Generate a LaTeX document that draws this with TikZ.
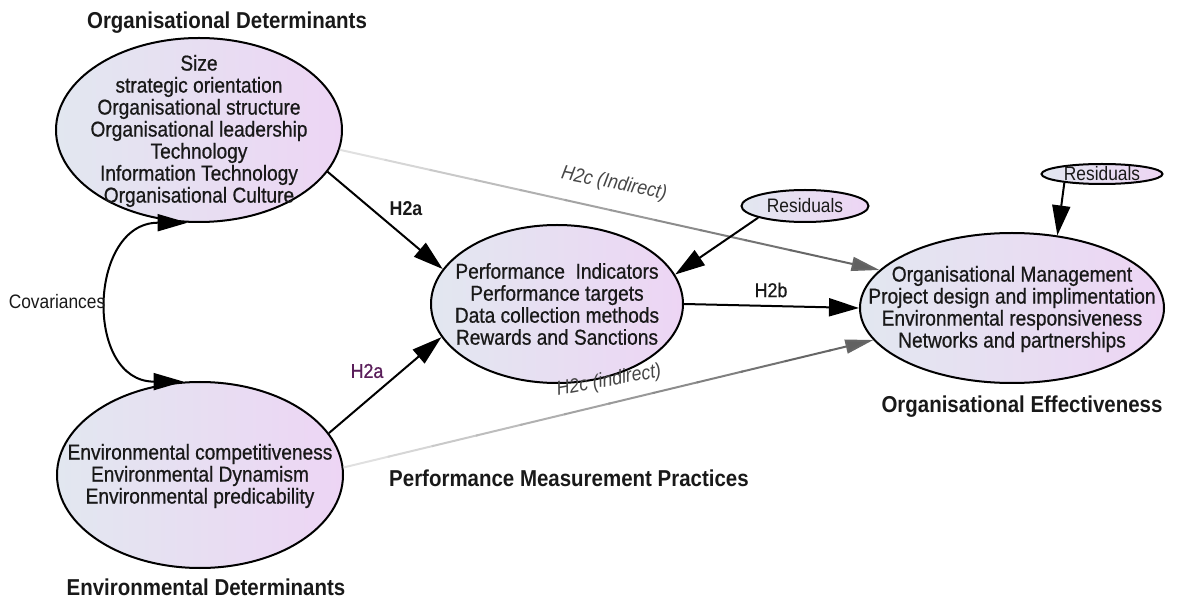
\documentclass[tikz,border=0pt]{standalone}
\usepackage{fontspec}
\setmainfont{Liberation Sans}[FakeStretch=0.89]
\newfontfamily\medfont{Liberation Sans}[FakeStretch=0.89, FakeBold=0.7]
\usetikzlibrary{shapes.geometric,arrows.meta,calc}
\definecolor{ellL}{RGB}{226,231,240}
\definecolor{ellR}{RGB}{237,213,244}
\definecolor{hpurple}{RGB}{90,30,90}
\definecolor{ink}{RGB}{25,25,25}
\definecolor{note}{RGB}{70,70,70}

\begin{document}
\begin{tikzpicture}[x=1pt,y=-1pt,
  construct/.style={ellipse, draw=black, line width=2pt, left color=ellL, right color=ellR, inner sep=0pt},
  itemtext/.style={align=center, font=\medfont\fontsize{21.5}{22}\selectfont, text=ink, inner sep=0pt},
  heading/.style={font=\fontsize{23}{26}\selectfont\bfseries, text=ink, inner sep=0pt},
  small/.style={font=\fontsize{19.5}{22}\selectfont, text=ink, inner sep=0pt},
  causal/.style={line width=2pt, draw=black, -{Triangle[length=30pt,width=18pt]}},
  bothway/.style={line width=2pt, draw=black, {Triangle[length=30pt,width=17pt]}-{Triangle[length=30pt,width=17pt]}},
  gline/.style={line width=2pt},
  gtip/.style={line width=2pt, draw=black!60, -{Triangle[length=28pt,width=14pt,fill=black!62]}},
  hnote/.style={font=\fontsize{20}{22}\selectfont\itshape, text=note, inner sep=0pt}
]
\useasboundingbox (0,0) rectangle (1178,601);

% constructs
\node[construct, minimum width=286pt, minimum height=184pt] (OD) at (199,130) {};
\node[construct, minimum width=286pt, minimum height=186pt] (ED) at (200,475) {};
\node[construct, minimum width=252pt, minimum height=158pt] (PMP) at (557,304) {};
\node[construct, minimum width=304pt, minimum height=150pt] (OE) at (1012,308) {};
\node[construct, minimum width=127pt, minimum height=32pt] (R1) at (805,206) {};
\node[construct, minimum width=121pt, minimum height=20pt] (R2) at (1102,174) {};

% construct contents
\node[itemtext] (ODt) at (199,131) {Size\\strategic orientation\\Organisational structure\\Organisational leadership\\Technology\\Information Technology\\Organisational Culture};
\node[itemtext] (EDt) at (200,476) {Environmental competitiveness\\Environmental Dynamism\\Environmental predicability};
\node[itemtext] (PMPt) at (557,304) {Performance\ \ Indicators\\Performance targets\\Data collection methods\\Rewards and Sanctions};
\node[itemtext] (OEt) at (1012,309) {Organisational Management\\Project design and implimentation\\Environmental responsiveness\\Networks and partnerships};
\node[small] (R1t) at (R1) {Residuals};
\node[small] (R2t) at (R2) {Residuals};

% headings
\node[heading] (ODh) at (227,23) {Organisational Determinants};
\node[heading] (EDh) at (206,587) {Environmental Determinants};
\node[heading] (PMPh) at (569,478) {Performance Measurement Practices};
\node[heading] (OEh) at (1022,407) {Organisational Effectiveness};

% indirect paths, fading from light to dark grey
\coordinate (g1s) at (OD.-8);
\coordinate (g1e) at (OE.164);
\coordinate (g2s) at (ED.3);
\coordinate (g2e) at (OE.193);
\foreach \s/\e in {g1s/g1e, g2s/g2e} {
  \foreach \i in {0,...,10} {
    \pgfmathsetmacro\ta{\i/12}
    \pgfmathsetmacro\tb{(\i+1)/12+0.004}
    \pgfmathtruncatemacro\k{12+48*\i/10}
    \draw[gline, draw=black!\k] ($(\s)!\ta!(\e)$) -- ($(\s)!\tb!(\e)$);
  }
  \draw[gtip] ($(\s)!0.9167!(\e)$) -- (\e);
}

% direct paths
\draw[causal] (OD.-18) -- (PMP.163);
\draw[causal] (ED.18) -- (PMP.196);
\draw[causal] (PMP.0) -- (OE.180);
\draw[causal] (R1.194) -- (PMP.14);
\draw[causal] (R2.193) -- (OE.58);

% covariance between the determinants
\draw[bothway] (OD.-97) to[out=180, in=180, looseness=1.6] (ED.100);

% path labels
\node[small] (cov) at (57,302) {Covariances};
\node[font=\fontsize{20}{22}\selectfont\bfseries, text=ink, inner sep=0pt] (h2a1) at (406,209) {H2a};
\node[font=\medfont\fontsize{20}{22}\selectfont, text=hpurple, inner sep=0pt] (h2a2) at (367,371) {H2a};
\node[font=\medfont\fontsize{20}{22}\selectfont, text=ink, inner sep=0pt] (h2b) at (771,290) {H2b};
\node[hnote, rotate=-11] (h2c1) at (614,184) {H2c (Indirect)};
\node[hnote, rotate=10.5] (h2c2) at (609,381) {H2c (indirect)};
\end{tikzpicture}
\end{document}
